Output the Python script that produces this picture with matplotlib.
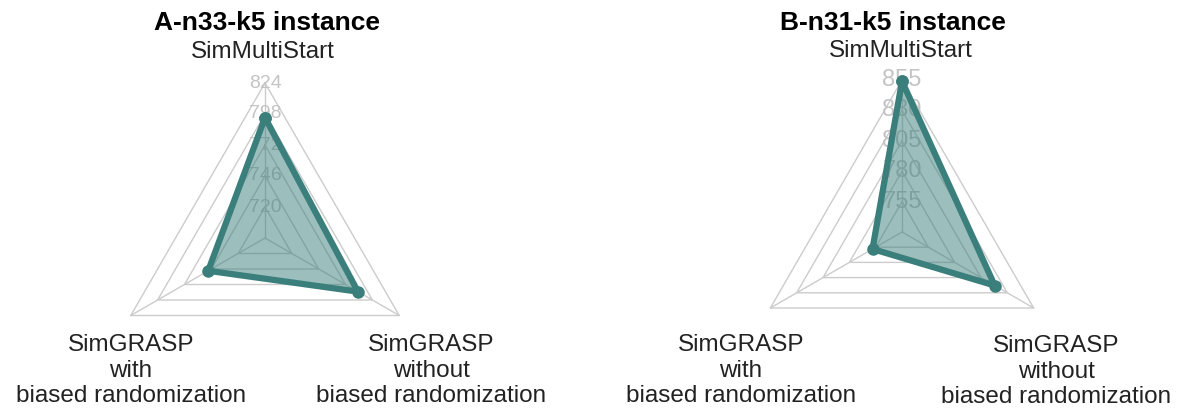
import numpy as np
import matplotlib
matplotlib.use("Agg")
import matplotlib.pyplot as plt

plt.rcParams['font.family'] = ['Liberation Sans', 'DejaVu Sans']

# data
methods = ["SimMultiStart", "SimGRASP\nwith\nbiased randomization",
           "SimGRASP\nwithout\nbiased randomization"]
titles = ["A-n33-k5 instance", "B-n31-k5 instance"]
values_a = [795, 749, 784]
values_b = [854, 758, 818]
ticks_a = [720, 746, 772, 798, 824]
ticks_b = [755, 780, 805, 830, 855]

line_col = '#3a7f7b'
grid_col = '#cccccc'
W, H = 1182, 408

fig = plt.figure(figsize=(W / 100, H / 100), dpi=100)


def radar(rect, values, ticks, title, tick_size, title_xy, lab_pos):
    ax = fig.add_axes(rect, projection='polar')
    ang = np.deg2rad([90, 210, 330])
    step = ticks[1] - ticks[0]
    ax.set_ylim(ticks[0] - step, ticks[-1])
    ax.grid(False)
    ax.set_xticks([])
    ax.set_yticks([])
    ax.spines['polar'].set_visible(False)
    ax.patch.set_visible(False)

    closed = np.append(ang, ang[0])
    # triangle grid
    for t in ticks:
        ax.plot(closed, [t] * 4, color=grid_col, lw=1, clip_on=False, zorder=1)
    for a in ang:
        ax.plot([a, a], [ticks[0] - step, ticks[-1]], color=grid_col, lw=1,
                clip_on=False, zorder=1)
    for t in ticks:
        ax.text(np.pi / 2, t, str(t), color='#c4c4c4', fontsize=tick_size,
                ha='center', va='center', zorder=2)

    vals = np.append(values, values[0])
    ax.fill(closed, vals, color=line_col, alpha=0.5, zorder=3, clip_on=False)
    ax.plot(closed, vals, color=line_col, lw=4.5, marker='o', ms=8,
            solid_joinstyle='round', clip_on=False, zorder=4)

    # titles and axis names (pixel positions from the reference)
    tx, ty = title_xy
    fig.text(tx / W, 1 - ty / H, title, fontsize=19, fontweight='bold',
             ha='center', va='baseline')
    for name, (x, y) in zip(methods, lab_pos):
        fig.text(x / W, 1 - y / H, name, fontsize=17.5, color='#222222',
                 ha='center', va='baseline', linespacing=1.2)
    return ax


radar([110 / W, 15 / H, 310 / W, 310 / H], values_a, ticks_a, titles[0], 14,
      (267, 30), [(263, 58), (131, 402), (431, 402)])
radar([750 / W, 24 / H, 304 / W, 304 / H], values_b, ticks_b, titles[1], 17,
      (893, 30), [(901, 57), (741, 402), (1056, 403)])

fig.savefig('out.png', dpi=100)
